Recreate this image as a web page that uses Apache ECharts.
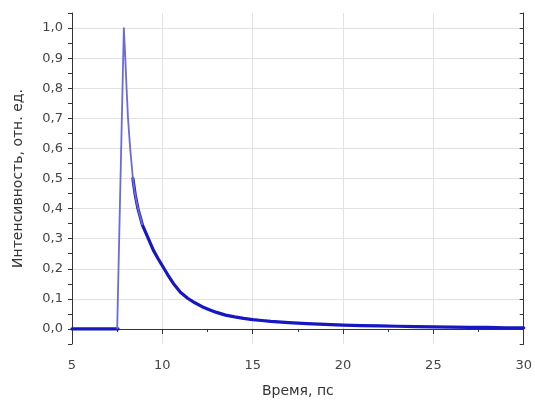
<!DOCTYPE html>
<html>
<head>
<meta charset="utf-8">
<script src="https://cdn.jsdelivr.net/npm/echarts@6/dist/echarts.min.js"></script>
<style>
html,body{margin:0;padding:0;background:#fff;}
#chart{width:535px;height:403px;}
</style>
</head>
<body>
<div id="chart"></div>
<script>
// Data
const times = [5.0, 6.0, 7.0, 7.5, 7.55, 7.87, 7.95, 8.02, 8.10, 8.22, 8.37, 8.5, 8.65, 8.9, 9.19, 9.5, 9.75, 10.0, 10.3, 10.6, 11.0, 11.4, 11.8, 12.2, 12.6, 13.0, 13.5, 14.0, 14.5, 15.0, 15.5, 16.0, 17.0, 18.0, 19.0, 20.0, 21.0, 22.0, 23.0, 24.0, 25.0, 26.0, 27.0, 28.0, 29.0, 30.0];
const intensity = [0.0, 0.0, 0.0, 0.0, 0.0, 1.0, 0.90, 0.80, 0.70, 0.60, 0.50, 0.445, 0.40, 0.345, 0.305, 0.262, 0.235, 0.21, 0.18, 0.152, 0.122, 0.102, 0.087, 0.074, 0.064, 0.055, 0.046, 0.04, 0.035, 0.031, 0.028, 0.025, 0.021, 0.018, 0.015, 0.013, 0.011, 0.010, 0.009, 0.008, 0.007, 0.006, 0.005, 0.005, 0.004, 0.004];
const xTicks = [5, 10, 15, 20, 25, 30];
const yTickLabels = ['0,0','0,1','0,2','0,3','0,4','0,5','0,6','0,7','0,8','0,9','1,0'];
const xName = 'Время, пс';
const yName = 'Интенсивность, отн. ед.';

// the noisy, thin-looking part of the trace around the peak
const peakStart = 7.5, peakEnd = 8.9, thickFrom = 8.37;

const mainData = times.map((t, i) => [t, (t > 7.55 && t < thickFrom) ? null : intensity[i]]);
const peakData = times.map((t, i) => [t, intensity[i]]).filter(p => p[0] >= peakStart && p[0] <= peakEnd);
const FONT = 'DejaVu Sans';

const chart = echarts.init(document.getElementById('chart'), null, {renderer: 'canvas'});
chart.setOption({
  backgroundColor: '#ffffff',
  animation: false,
  grid: {left: 72, right: 7, top: 13, bottom: 57, containLabel: false},
  xAxis: [{
    type: 'value', min: xTicks[0], max: xTicks[xTicks.length - 1], interval: 5,
    name: xName, nameLocation: 'middle', nameGap: 40,
    nameTextStyle: {fontFamily: FONT, fontSize: 14, color: '#333'},
    axisLine: {show: true, lineStyle: {color: '#333', width: 1}},
    axisTick: {show: true, inside: false, length: 5, lineStyle: {color: '#333'}},
    minorTick: {show: true, splitNumber: 2, length: 3, lineStyle: {color: '#333'}},
    axisLabel: {fontFamily: FONT, fontSize: 13, color: '#444', margin: 15},
    splitLine: {show: true, lineStyle: {color: '#e2e2e2', width: 1}}
  }, {
    type: 'value', position: 'top', min: xTicks[0], max: xTicks[xTicks.length - 1], interval: 5,
    axisLine: {show: true, lineStyle: {color: '#333', width: 1}},
    axisTick: {show: true, inside: true, length: 5, lineStyle: {color: '#333'}},
    minorTick: {show: true, splitNumber: 2, length: 3, lineStyle: {color: '#333'}},
    axisLabel: {show: false}, splitLine: {show: false}
  }],
  yAxis: [{
    type: 'value', min: -0.05, max: 1.05, interval: 0.05,
    name: yName, nameLocation: 'middle', nameGap: 47,
    nameTextStyle: {fontFamily: FONT, fontSize: 14, color: '#333'},
    axisLine: {show: true, lineStyle: {color: '#333', width: 1}},
    axisTick: {show: true, inside: false, length: 4, lineStyle: {color: '#333'}},
    axisLabel: {
      fontFamily: FONT, fontSize: 13, color: '#444', margin: 9,
      formatter: function (v) {
        const k = Math.round(v * 10);
        if (Math.abs(v * 10 - k) > 1e-6 || k < 0 || k >= yTickLabels.length) return '';
        return yTickLabels[k];
      }
    },
    splitLine: {show: true, lineStyle: {color: ['rgba(0,0,0,0)', '#e2e2e2'], width: 1}}
  }, {
    type: 'value', position: 'right', min: -0.05, max: 1.05, interval: 0.05,
    axisLine: {show: true, lineStyle: {color: '#333', width: 1}},
    axisTick: {show: true, inside: true, length: 4, lineStyle: {color: '#333'}},
    axisLabel: {show: false}, splitLine: {show: false}
  }],
  series: [{
    type: 'line', xAxisIndex: 0, yAxisIndex: 0,
    data: mainData, showSymbol: false, symbol: 'none', connectNulls: false,
    smooth: false,
    lineStyle: {width: 3.2, color: '#1616c2', join: 'round', cap: 'round'},
    z: 5
  }, {
    type: 'line', xAxisIndex: 0, yAxisIndex: 0,
    data: peakData, showSymbol: false, symbol: 'none',
    lineStyle: {width: 1.8, color: '#6a6adc', join: 'round'},
    z: 6
  }]
});
</script>
</body>
</html>
